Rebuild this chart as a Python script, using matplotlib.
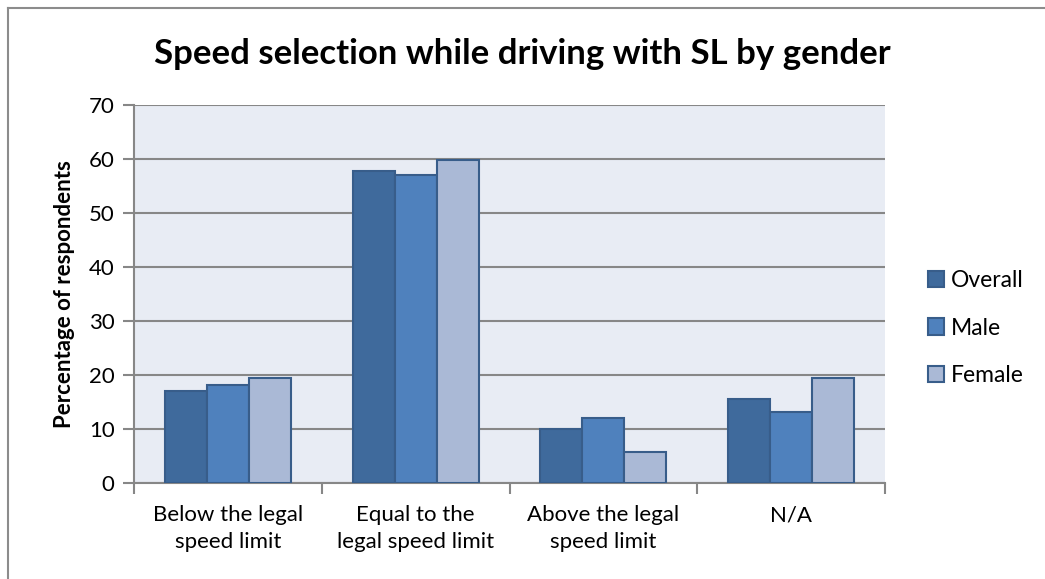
import matplotlib.pyplot as plt
from matplotlib.lines import Line2D
import numpy as np

plt.rcParams['font.family'] = ['Lato', 'DejaVu Sans']

categories = ["Below the legal\nspeed limit", "Equal to the\nlegal speed limit",
              "Above the legal\nspeed limit", "N/A"]
series_names = ["Overall", "Male", "Female"]
overall = [17.1, 57.7, 10.0, 15.6]
male = [18.1, 57.1, 12.0, 13.1]
female = [19.5, 59.8, 5.7, 19.5]

colors = ["#3F6A9C", "#4F81BD", "#AAB9D6"]
edge = "#385D8A"

fig = plt.figure(figsize=(10.45, 5.79), dpi=100)
# chart frame: only the top and left edges fall inside the image
bx, by = 7.5 / 1045, 1 - 7.5 / 579
fig.lines.append(Line2D([bx, 1], [by, by], transform=fig.transFigure, color="#8C8C8C", linewidth=1.5))
fig.lines.append(Line2D([bx, bx], [0, by], transform=fig.transFigure, color="#8C8C8C", linewidth=1.5))

ax = fig.add_axes([134 / 1045, 1 - 483 / 579, 751 / 1045, 378 / 579])
ax.set_facecolor("#E8ECF4")

x = np.arange(len(categories))
w = 0.224
for i, (vals, name) in enumerate(zip([overall, male, female], series_names)):
    ax.bar(x + (i - 1) * w, vals, width=w, color=colors[i], edgecolor=edge,
           linewidth=1.5, label=name, zorder=3)

ax.set_xlim(-0.5, 3.5)
ax.set_ylim(0, 70)
ax.set_yticks(range(0, 71, 10))
ax.yaxis.grid(True, color="#878787", linewidth=1.5, zorder=1)
ax.set_axisbelow(True)

for s in ["top", "right"]:
    ax.spines[s].set_visible(False)
for s in ["left", "bottom"]:
    ax.spines[s].set_color("#878787")
    ax.spines[s].set_linewidth(1.5)

ax.set_xticks(x)
ax.set_xticklabels(categories, fontsize=16, linespacing=1.45)
ax.tick_params(axis="x", length=0, pad=16)
ax.set_xticks(np.arange(-0.5, 4, 1), minor=True)
ax.tick_params(axis="x", which="minor", length=8, color="#878787", width=1.5)
ax.tick_params(axis="y", length=8, color="#878787", width=1.5, labelsize=16, pad=6)

ax.set_ylabel("Percentage of respondents", fontsize=16, fontweight="bold", labelpad=10)
fig.suptitle("Speed selection while driving with SL by gender", x=0.5, y=0.935,
             fontsize=25, fontweight="bold")

ax.legend(loc="center left", bbox_to_anchor=(1.03, 0.41), frameon=False, fontsize=16.5,
          handlelength=0.7, handleheight=0.7, handletextpad=0.3, labelspacing=1.15)

fig.savefig("out.png", dpi=100)
